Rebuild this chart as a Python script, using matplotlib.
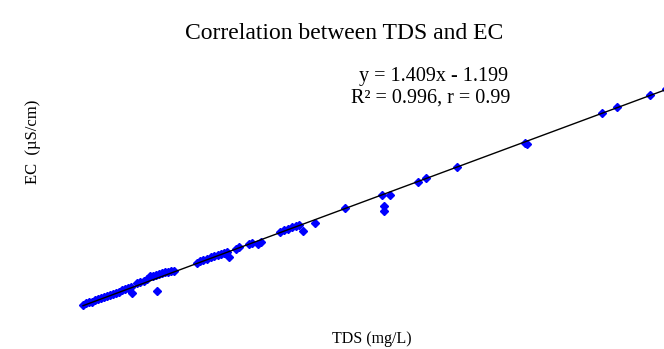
import numpy as np
import matplotlib.pyplot as plt

plt.rcParams["font.family"] = ["Liberation Serif", "DejaVu Serif"]

# TDS (mg/L) and EC (uS/cm) samples
tds = [50, 56, 62, 68, 74, 80, 86, 92, 98, 104, 110, 116, 122, 128, 134, 140,
       146, 148, 158, 164, 172, 178, 184, 190, 196, 202, 208, 214, 220, 226,
       232, 198,
       278, 284, 290, 298, 306, 312, 320, 326, 332, 338, 342, 356, 362, 382,
       388, 400, 406,
       444, 452, 460, 468, 476, 482, 490, 514,
       574, 648, 664, 652, 652, 720, 736, 798, 934, 938, 1088, 1118, 1184, 1216]
ec = [75, 86, 94, 101, 113, 120, 128, 136, 143, 151, 158, 166, 177, 185, 193, 204,
      215, 166, 242, 250, 257, 272, 295, 295, 303, 310, 318, 322, 326, 333,
      333, 181,
      394, 406, 417, 425, 440, 447, 451, 459, 470, 474, 440, 501, 512, 539,
      546, 539, 554,
      630, 641, 652, 664, 675, 683, 637, 698,
      812, 911, 911, 827, 789, 1010, 1040, 1124, 1306, 1298, 1534, 1580, 1671, 1717]

slope = 1.409
intercept = -1.199
r_squared = 0.996
r_value = 0.99

fig = plt.figure(figsize=(6.64, 3.49), dpi=100)
ax = fig.add_axes([0, 0, 1, 1])
ax.set_xlim(-116, 1212)
ax.set_ylim(-260, 2393)
ax.axis("off")

x_fit = np.linspace(min(tds), max(tds), 100)
ax.plot(x_fit, slope * x_fit + intercept, color="black", linewidth=1.0,
        zorder=3, clip_on=False)
ax.plot(tds, ec, linestyle="none", marker="D", markersize=4.2,
        color="#0000ff", zorder=2, clip_on=False)

fig.text(0.519, 0.905, "Correlation between TDS and EC", ha="center",
         va="center", fontsize=17)
fig.text(0.653, 0.78, f"y = {slope}x - {abs(intercept)}", ha="center",
         va="center", fontsize=14.5)
fig.text(0.649, 0.72, f"R² = {r_squared}, r = {r_value}", ha="center",
         va="center", fontsize=14.5)
fig.text(0.56, 0.03, "TDS (mg/L)", ha="center", va="center", fontsize=11.5)
fig.text(0.05, 0.593, "EC  (µS/cm)", ha="center", va="center", fontsize=12,
         rotation=90)

fig.savefig("out.png", dpi=100)
